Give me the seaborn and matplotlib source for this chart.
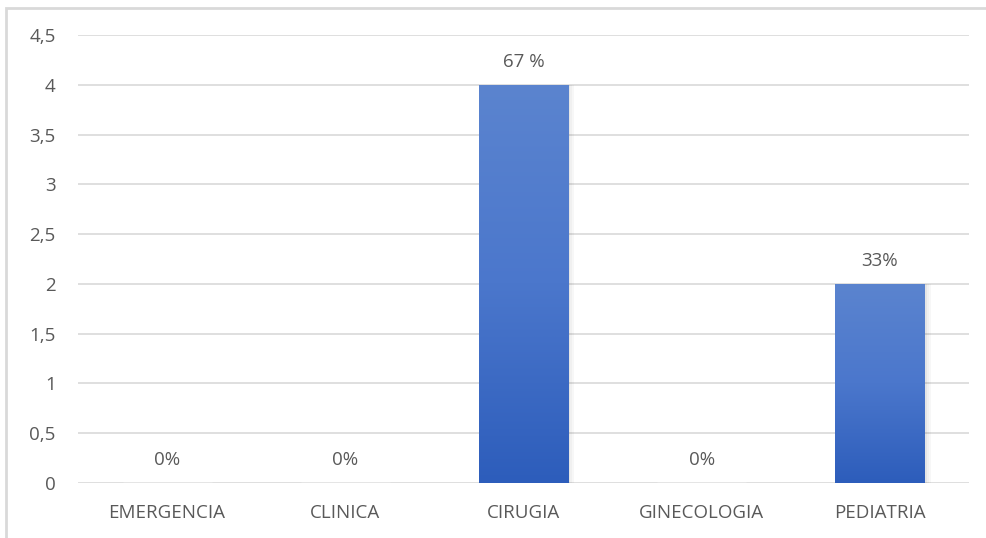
import numpy as np
import pandas as pd
import matplotlib
matplotlib.use("Agg")
import matplotlib.pyplot as plt
import seaborn as sns
from matplotlib.patches import Rectangle
from matplotlib.colors import LinearSegmentedColormap

servicios = ["EMERGENCIA", "CLINICA", "CIRUGIA", "GINECOLOGIA", "PEDIATRIA"]
casos = [0, 0, 4, 0, 2]
etiquetas = ["0%", "0%", "67 %", "0%", "33%"]
y_ticks = [0, 0.5, 1, 1.5, 2, 2.5, 3, 3.5, 4, 4.5]
y_labels = ["0", "0,5", "1", "1,5", "2", "2,5", "3", "3,5", "4", "4,5"]


def main():
    sns.set_style("white")
    plt.rcParams["font.family"] = ["Open Sans", "DejaVu Sans"]

    df = pd.DataFrame({"Servicio": servicios, "Casos": casos})

    fig = plt.figure(figsize=(9.87, 5.38), dpi=100)
    ax = fig.add_axes([78 / 987, 1 - 483 / 538, (969 - 78) / 987, (483 - 35) / 538])

    sns.barplot(data=df, x="Servicio", y="Casos", color="#4472c4", width=0.5,
                ax=ax, zorder=3)

    # gradient fill on each bar
    cmap = LinearSegmentedColormap.from_list("grad", ["#2d5dbb", "#4b77cc", "#5b84cf"])
    grad = np.linspace(0, 1, 256).reshape(-1, 1)
    for patch in ax.patches:
        h = patch.get_height()
        if h <= 0:
            continue
        x0 = patch.get_x()
        w = patch.get_width()
        # soft shadow to the right
        for i, a in enumerate([0.10, 0.06, 0.03]):
            ax.add_patch(Rectangle((x0 + w + i * 0.012, 0), 0.012, h, color="#000000",
                                   alpha=a, lw=0, zorder=2))
        im = ax.imshow(grad, extent=[x0, x0 + w, 0, h], origin="lower",
                       aspect="auto", cmap=cmap, zorder=3)
        im.set_clip_path(patch)
        patch.set_facecolor("none")
        patch.set_edgecolor("none")

    for i, (v, t) in enumerate(zip(casos, etiquetas)):
        ax.text(i, v + 0.23, t, ha="center", va="center", fontsize=13.5,
                color="#595959", zorder=4)

    ax.set_xlim(-0.5, len(servicios) - 0.5)
    ax.set_ylim(0, 4.5)
    ax.set_yticks(y_ticks)
    ax.set_yticklabels(y_labels)
    ax.yaxis.grid(True, color="#d9d9d9", lw=1.2, zorder=0)
    ax.set_axisbelow(True)
    for s in ax.spines.values():
        s.set_visible(False)
    ax.tick_params(axis="both", length=0, labelsize=13.5, colors="#595959")
    ax.tick_params(axis="y", pad=16)
    ax.tick_params(axis="x", pad=15)
    ax.set_xlabel("")
    ax.set_ylabel("")

    # outer frame like the screenshot
    fig.patches.append(Rectangle((6 / 987, -0.01), 1.1, 1 - 8 / 538 + 0.01,
                                 transform=fig.transFigure, fill=False,
                                 edgecolor="#d9d9d9", lw=2))

    fig.savefig("out.png", dpi=100)
    plt.close(fig)


if __name__ == "__main__":
    main()
